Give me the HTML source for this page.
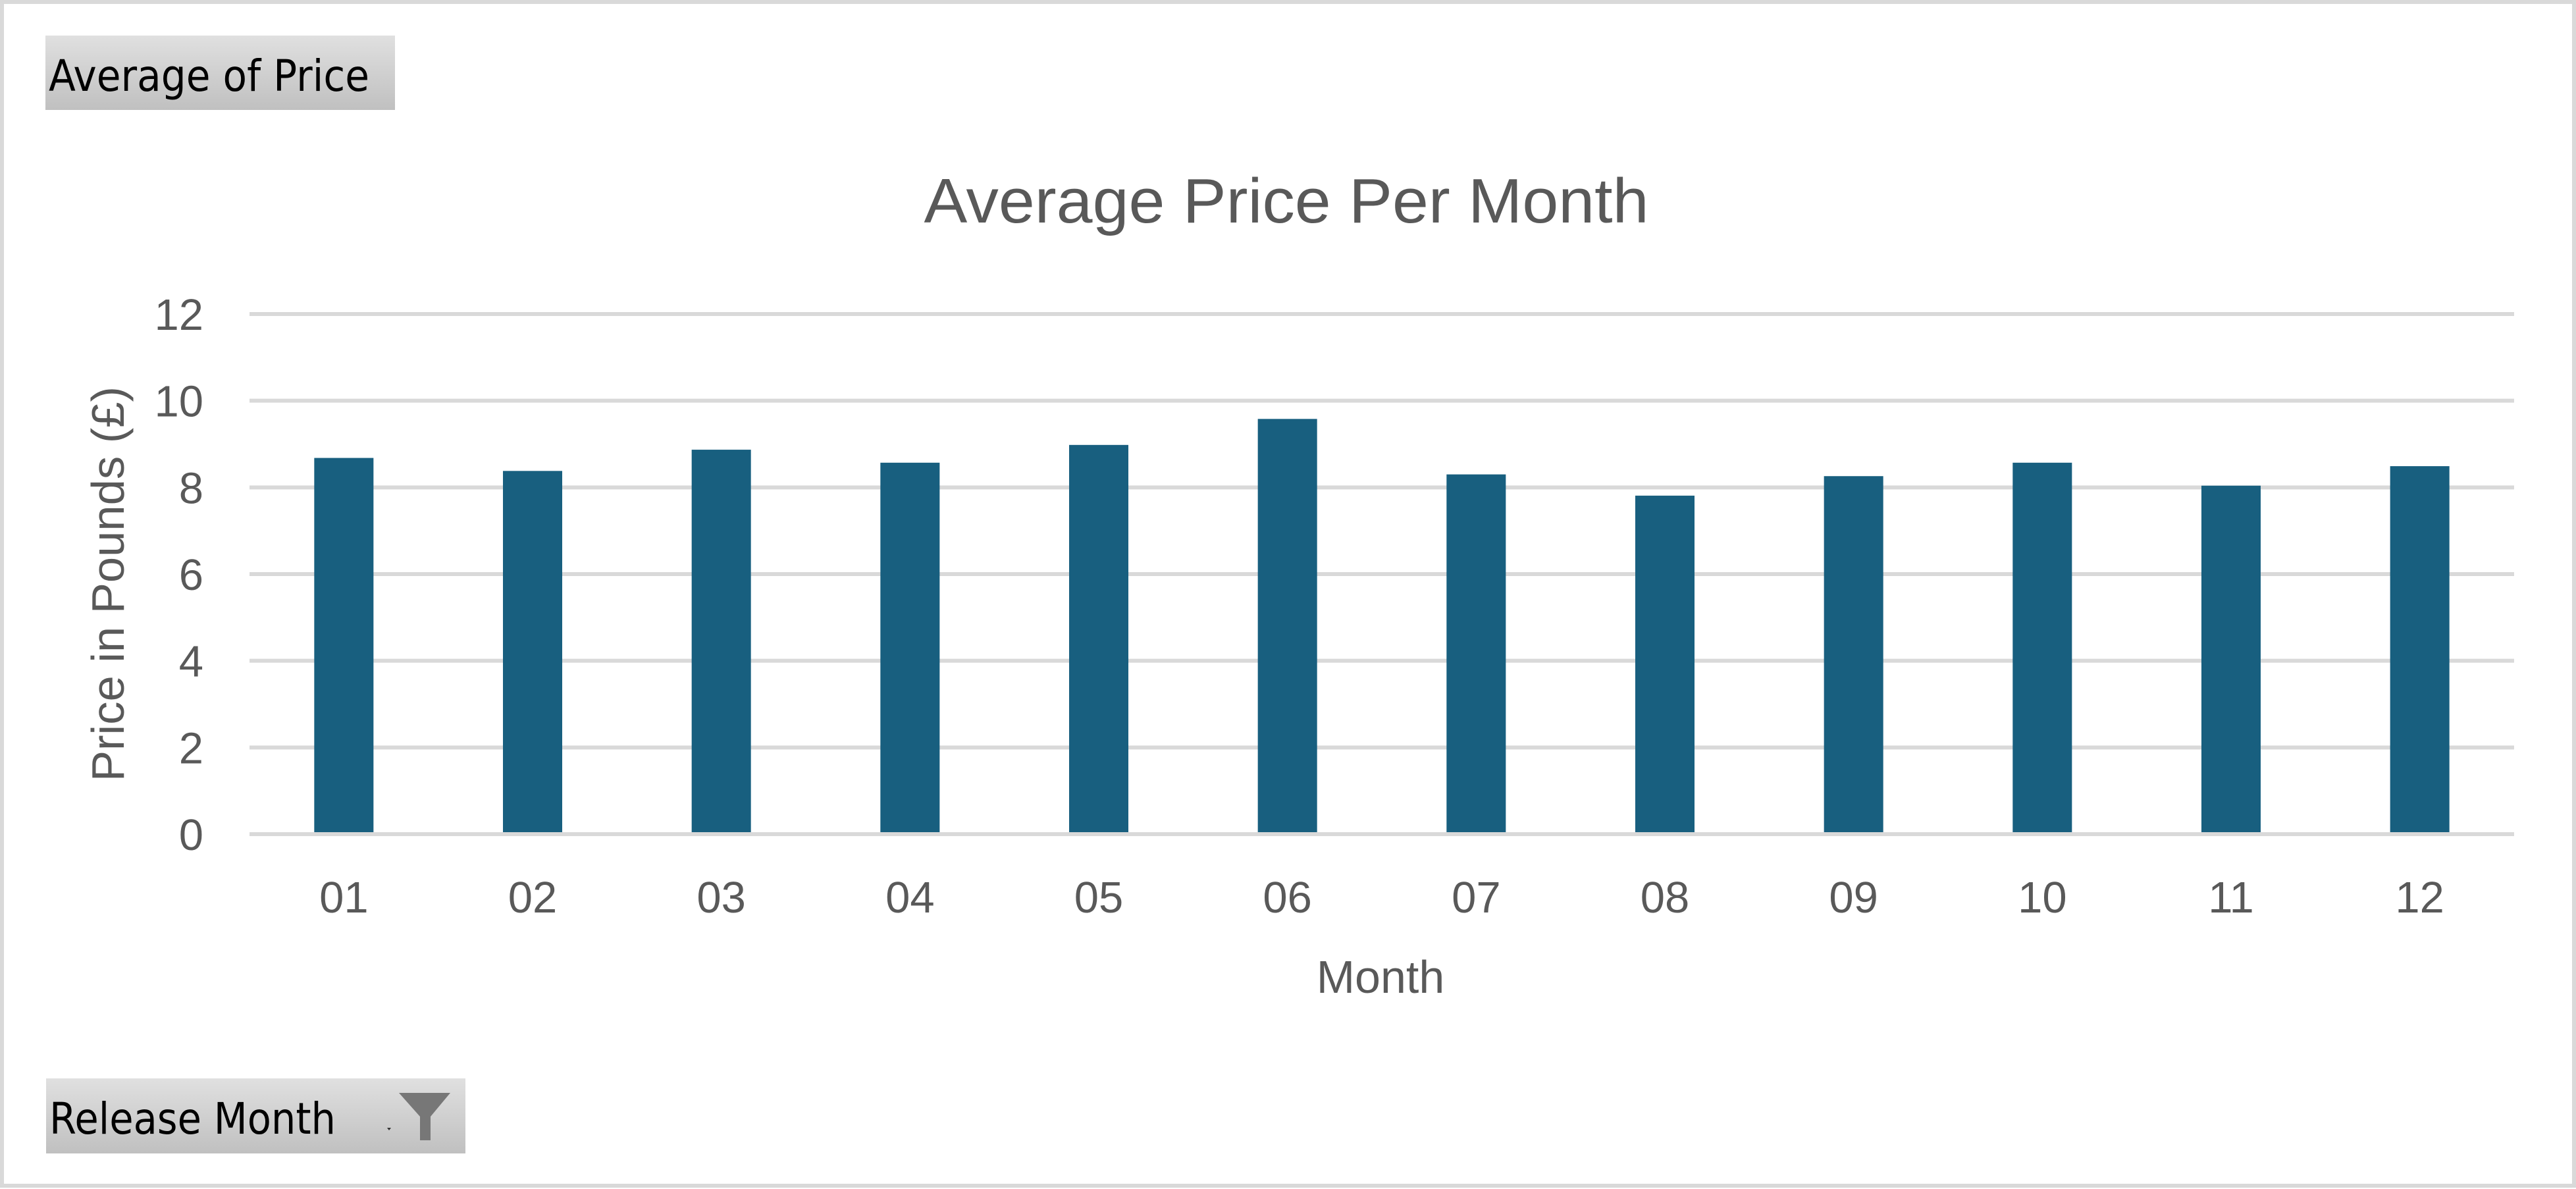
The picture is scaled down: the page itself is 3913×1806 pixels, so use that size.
<!DOCTYPE html>
<html><head><meta charset="utf-8"><style>
html,body{margin:0;padding:0;background:#fff;}
svg{display:block;}
</style></head><body>
<svg id="chart" width="3913" height="1806" viewBox="0 0 3913 1806" xmlns="http://www.w3.org/2000/svg">
<defs>
<linearGradient id="btn" x1="0" y1="0" x2="0" y2="1"><stop offset="0" stop-color="#e0e0e0"/><stop offset="1" stop-color="#c0c0c0"/></linearGradient>
</defs>
<rect x="3" y="3" width="3907" height="1798" fill="#fff" stroke="#d9d9d9" stroke-width="6"/>
<g>
<rect x="69" y="54" width="531" height="113" fill="url(#btn)"/>
<text x="74" y="138" font-family="'DejaVu Sans','Liberation Sans',sans-serif" font-size="66" fill="#000" textLength="487" lengthAdjust="spacingAndGlyphs">Average of Price</text>
</g>
<text x="1954" y="338" text-anchor="middle" font-family="'Liberation Sans',sans-serif" font-size="96" fill="#595959" textLength="1101" lengthAdjust="spacingAndGlyphs">Average Price Per Month</text>
<g id="grid"></g>
<g id="bars"></g>
<g id="xlabels"></g>
<text x="0" y="0" transform="translate(188,887) rotate(-90)" text-anchor="middle" font-family="'Liberation Sans',sans-serif" font-size="70" fill="#595959" textLength="600" lengthAdjust="spacingAndGlyphs">Price in Pounds (£)</text>
<text x="2097" y="1508" text-anchor="middle" font-family="'Liberation Sans',sans-serif" font-size="70" fill="#595959">Month</text>
<g>
<rect x="70" y="1638" width="637" height="114" fill="url(#btn)"/>
<text x="75" y="1722" font-family="'DejaVu Sans','Liberation Sans',sans-serif" font-size="66" fill="#000" textLength="435" lengthAdjust="spacingAndGlyphs">Release Month</text>
<polygon points="588,1713 594,1713 591,1717" fill="#333"/>
<polygon points="606,1660 684,1660 654,1696 654,1732 638,1732 638,1696" fill="#777"/>
</g>
</svg>
<script>
const categories = ["01","02","03","04","05","06","07","08","09","10","11","12"];
const values = [8.68,8.38,8.87,8.57,8.98,9.58,8.30,7.81,8.26,8.57,8.04,8.49];
const yTicks = [0,2,4,6,8,10,12];

const NS = "http://www.w3.org/2000/svg";
const plotL = 379, plotR = 3819, y0 = 1267, y12 = 477, yMax = 12;
const yScale = v => y0 - (v / yMax) * (y0 - y12);
const band = (plotR - plotL) / categories.length;
const xCenter = i => plotL + band * (i + 0.5);
const barW = band * 0.314;

const grid = document.getElementById('grid');
yTicks.forEach(t => {
  const l = document.createElementNS(NS, 'line');
  l.setAttribute('x1', plotL); l.setAttribute('x2', plotR);
  l.setAttribute('y1', yScale(t)); l.setAttribute('y2', yScale(t));
  l.setAttribute('stroke', '#d9d9d9'); l.setAttribute('stroke-width', '6');
  
  
  grid.appendChild(l);
  const tx = document.createElementNS(NS, 'text');
  tx.setAttribute('x', 309); tx.setAttribute('y', yScale(t) + 24);
  tx.setAttribute('text-anchor', 'end');
  tx.setAttribute('font-family', "'Liberation Sans',sans-serif");
  tx.setAttribute('font-size', '67'); tx.setAttribute('fill', '#595959');
  tx.textContent = t;
  
  
  grid.appendChild(tx);
});

const bars = document.getElementById('bars');
const xl = document.getElementById('xlabels');
categories.forEach((c, i) => {
  const r = document.createElementNS(NS, 'rect');
  const top = yScale(values[i]);
  r.setAttribute('x', xCenter(i) - barW / 2); r.setAttribute('width', barW);
  r.setAttribute('y', top); r.setAttribute('height', y0 - 3 - top);
  r.setAttribute('fill', '#185f7f');
  
  
  bars.appendChild(r);
  const t = document.createElementNS(NS, 'text');
  t.setAttribute('x', xCenter(i)); t.setAttribute('y', 1386);
  t.setAttribute('text-anchor', 'middle');
  t.setAttribute('font-family', "'Liberation Sans',sans-serif");
  t.setAttribute('font-size', '67'); t.setAttribute('fill', '#595959');
  t.textContent = c;
  
  
  xl.appendChild(t);
});
</script>
</body></html>
